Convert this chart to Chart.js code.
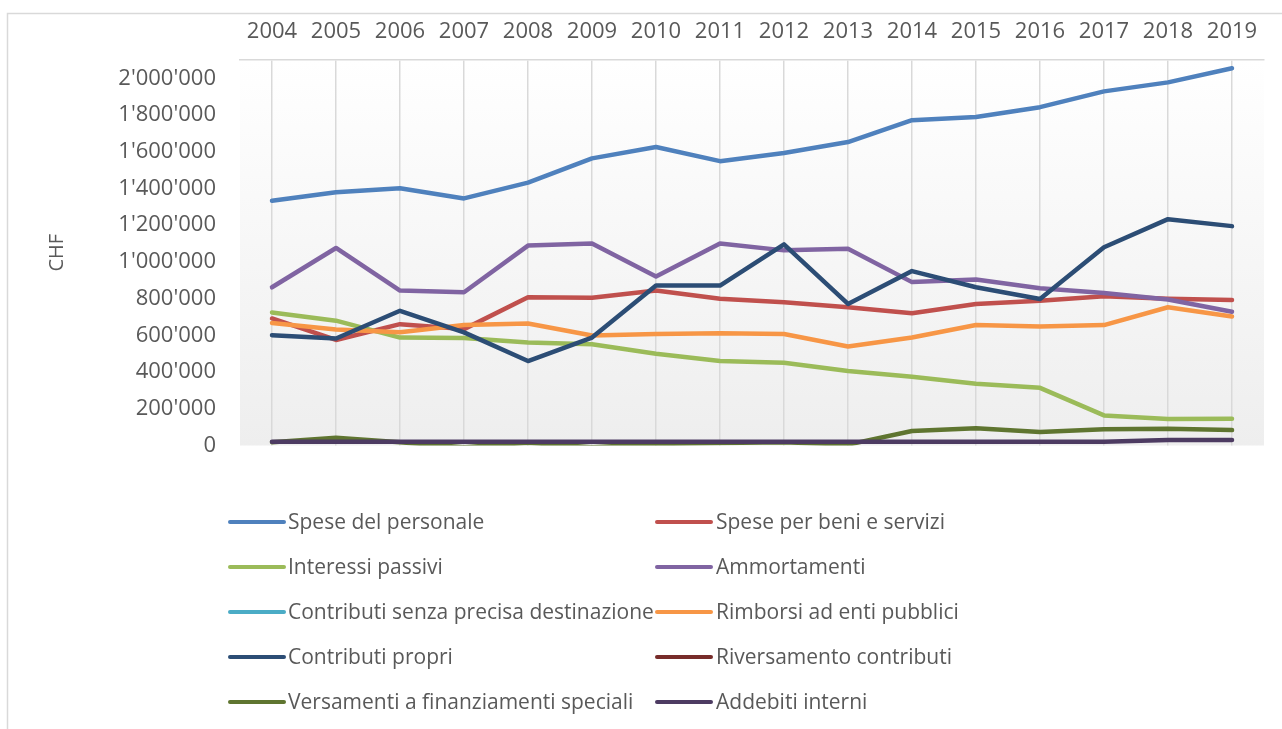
<!DOCTYPE html>
<html>
<head>
<meta charset="utf-8">
<script src="https://cdn.jsdelivr.net/npm/chart.js@4.4.1/dist/chart.umd.min.js"></script>
<style>
  html, body { margin: 0; padding: 0; background: #ffffff; overflow: hidden; }
  #wrap { position: absolute; left: 0; top: 0; width: 1282px; height: 729px; }
</style>
</head>
<body>
<div id="wrap"><canvas id="c" width="1282" height="729"></canvas></div>
<script>
// ---- Data ----
const years = ['2004','2005','2006','2007','2008','2009','2010','2011','2012','2013','2014','2015','2016','2017','2018','2019'];

const spesePersonale = [1333000,1379000,1401000,1346000,1432000,1564000,1626000,1549000,1593000,1653000,1772000,1790000,1843000,1929000,1978000,2055000];
const speseBeniServizi = [692000,575000,661000,634000,807000,805000,844000,800000,780000,753000,720000,771000,789000,813000,800000,793000];
const interessiPassivi = [725000,680000,588000,585000,561000,552000,500000,460000,451000,406000,374000,336000,314000,164000,144000,146000];
const ammortamenti = [862000,1076000,844000,835000,1089000,1101000,921000,1100000,1063000,1072000,890000,904000,857000,831000,795000,729000];
const contributiSenza = [null,null,null,null,null,null,null,null,null,null,null,null,null,null,null,null];
const rimborsiEnti = [667000,632000,617000,656000,665000,599000,607000,612000,607000,539000,588000,656000,648000,656000,753000,703000];
const contributiPropri = [601000,583000,734000,616000,460000,588000,871000,871000,1096000,771000,950000,862000,798000,1080000,1233000,1195000];
const riversamento = [null,null,null,null,null,null,null,null,null,null,null,null,null,null,null,null];
const versamentiFin = [18000,42000,18000,-10000,15000,-10000,8000,14000,18000,5000,79000,94000,73500,88000,91500,84000];
const addebitiInterni = [20000,20000,20000,20000,20000,20000,20000,20000,20000,20000,20000,20000,20000,20000,30000,30000];

const seriesLabels = [
  'Spese del personale','Spese per beni e servizi','Interessi passivi','Ammortamenti',
  'Contributi senza precisa destinazione','Rimborsi ad enti pubblici','Contributi propri',
  'Riversamento contributi','Versamenti a finanziamenti speciali','Addebiti interni'
];
const seriesValues = [spesePersonale, speseBeniServizi, interessiPassivi, ammortamenti,
  contributiSenza, rimborsiEnti, contributiPropri, riversamento, versamentiFin, addebitiInterni];
const seriesColors = ['#4F81BD','#C0504D','#9BBB59','#8064A2','#4BACC6','#F79646','#2C4D75','#772C2A','#5F7530','#4D3B62'];

const yTickValues = [0,200000,400000,600000,800000,1000000,1200000,1400000,1600000,1800000,2000000];
const yMin = 0, yMax = 2100000;
const axisTitle = 'CHF';

// ---- Styling ----
const FONT = '"Open Sans", "Noto Sans", sans-serif';
const TEXT = '#595959';
const GRID = '#d9d9d9';

function fmt(v) {
  return String(Math.round(v)).replace(/\B(?=(\d{3})+(?!\d))/g, "'");
}

const bgPlugin = {
  id: 'bgPlugin',
  beforeDraw(chart) {
    const ctx = chart.ctx;
    const a = chart.chartArea;
    ctx.save();
    ctx.strokeStyle = GRID;
    ctx.lineWidth = 1.5;
    ctx.strokeRect(7.5, 13.5, 1400, 800);
    const g = ctx.createLinearGradient(0, a.top, 0, a.bottom);
    g.addColorStop(0, '#ffffff');
    g.addColorStop(1, '#eeeeee');
    ctx.fillStyle = g;
    ctx.fillRect(a.left, a.top, a.right - a.left, a.bottom - a.top);
    ctx.restore();
  }
};

const legendPlugin = {
  id: 'colLegend',
  afterDraw(chart) {
    const ctx = chart.ctx;
    const cols = [{x: 230, tx: 288}, {x: 657, tx: 716}];
    const rowY0 = 522, rowGap = 45, sample = 54;
    ctx.save();
    ctx.font = '21px ' + FONT;
    ctx.textBaseline = 'middle';
    ctx.textAlign = 'left';
    chart.data.datasets.forEach((ds, i) => {
      const c = cols[i % 2];
      const y = rowY0 + Math.floor(i / 2) * rowGap;
      ctx.strokeStyle = ds.borderColor;
      ctx.lineWidth = 4;
      ctx.lineCap = 'round';
      ctx.beginPath();
      ctx.moveTo(c.x, y);
      ctx.lineTo(c.x + sample, y);
      ctx.stroke();
      ctx.fillStyle = TEXT;
      ctx.fillText(ds.label, c.tx, y + 1);
    });
    ctx.restore();
  }
};

const datasets = seriesLabels.map((lab, i) => ({
  label: lab,
  data: seriesValues[i],
  borderColor: seriesColors[i],
  backgroundColor: seriesColors[i],
  borderWidth: 4.5,
  pointRadius: 0,
  pointHoverRadius: 0,
  tension: 0,
  fill: false,
  spanGaps: false,
  borderJoinStyle: 'round',
  borderCapStyle: 'round',
  order: seriesLabels.length - i
}));

new Chart(document.getElementById('c'), {
  type: 'line',
  data: { labels: years, datasets },
  options: {
    responsive: false,
    animation: false,
    devicePixelRatio: 1,
    layout: { padding: { left: 0, top: 0, right: 18, bottom: 283.5 } },
    plugins: {
      legend: { display: false },
      tooltip: { enabled: false },
      title: { display: false }
    },
    scales: {
      x: {
        type: 'category',
        position: 'top',
        offset: true,
        grid: { display: true, offset: false, color: GRID, lineWidth: 1.5, drawTicks: false },
        border: { display: true, color: GRID, width: 1.5 },
        ticks: { color: TEXT, font: { family: FONT, size: 22 }, padding: 15, maxRotation: 0, autoSkip: false },
        afterFit(scale) { scale.height = 60; }
      },
      y: {
        type: 'linear',
        min: yMin,
        max: yMax,
        grid: { display: false, drawTicks: false },
        border: { display: false },
        afterBuildTicks(scale) {
          scale.ticks = yTickValues.map(v => ({ value: v }));
        },
        ticks: {
          autoSkip: false,
          color: TEXT,
          font: { family: FONT, size: 22 },
          padding: 24,
          callback: (v) => fmt(v)
        },
        title: {
          display: true,
          text: axisTitle,
          color: TEXT,
          font: { family: FONT, size: 20 },
          padding: { top: 45, bottom: 0 }
        },
        afterFit(scale) { scale.width = 240; }
      }
    }
  },
  plugins: [bgPlugin, legendPlugin]
});
</script>
</body>
</html>
